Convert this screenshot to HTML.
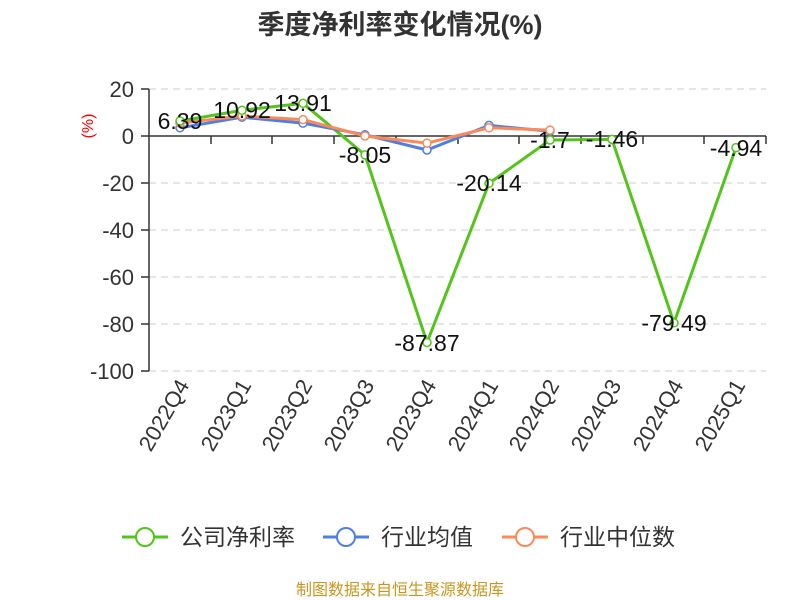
<!DOCTYPE html>
<html><head><meta charset="utf-8"><style>body{margin:0;background:#fff}svg{display:block}</style></head><body>
<svg width="800" height="600" xmlns="http://www.w3.org/2000/svg" font-family="Liberation Sans, Noto Sans CJK SC, sans-serif">
<text x="400" y="34" text-anchor="middle" font-size="27" font-weight="bold" fill="#333">季度净利率变化情况(%)</text>
<g stroke="#ccc" stroke-dasharray="7,5" stroke-width="1">
<line x1="149" x2="766" y1="89" y2="89"/><line x1="149" x2="766" y1="183" y2="183"/><line x1="149" x2="766" y1="230" y2="230"/><line x1="149" x2="766" y1="277" y2="277"/><line x1="149" x2="766" y1="324" y2="324"/><line x1="149" x2="766" y1="371" y2="371"/>
</g>
<g stroke="#333" stroke-width="1.5">
<line x1="149" x2="149" y1="89" y2="371"/><line x1="149" x2="766" y1="136" y2="136"/>
<line x1="141" x2="149" y1="89" y2="89"/><line x1="141" x2="149" y1="136" y2="136"/><line x1="141" x2="149" y1="183" y2="183"/><line x1="141" x2="149" y1="230" y2="230"/><line x1="141" x2="149" y1="277" y2="277"/><line x1="141" x2="149" y1="324" y2="324"/><line x1="141" x2="149" y1="371" y2="371"/>
<line x1="211" x2="211" y1="136" y2="144"/><line x1="272" x2="272" y1="136" y2="144"/><line x1="334" x2="334" y1="136" y2="144"/><line x1="396" x2="396" y1="136" y2="144"/><line x1="458" x2="458" y1="136" y2="144"/><line x1="519" x2="519" y1="136" y2="144"/><line x1="581" x2="581" y1="136" y2="144"/><line x1="643" x2="643" y1="136" y2="144"/><line x1="704" x2="704" y1="136" y2="144"/><line x1="766" x2="766" y1="136" y2="144"/>
</g>
<g font-size="22" fill="#333" text-anchor="end">
<text x="134" y="97">20</text><text x="134" y="144">0</text><text x="134" y="191">-20</text><text x="134" y="238">-40</text><text x="134" y="285">-60</text><text x="134" y="332">-80</text><text x="134" y="379">-100</text>
</g>
<text transform="translate(93,126) rotate(-90)" text-anchor="middle" font-size="16" fill="#f00">(%)</text>
<g font-size="22" fill="#333" text-anchor="end">
<text transform="translate(190,385) rotate(-60)">2022Q4</text>
<text transform="translate(252,385) rotate(-60)">2023Q1</text>
<text transform="translate(313,385) rotate(-60)">2023Q2</text>
<text transform="translate(375,385) rotate(-60)">2023Q3</text>
<text transform="translate(437,385) rotate(-60)">2023Q4</text>
<text transform="translate(499,385) rotate(-60)">2024Q1</text>
<text transform="translate(560,385) rotate(-60)">2024Q2</text>
<text transform="translate(622,385) rotate(-60)">2024Q3</text>
<text transform="translate(684,385) rotate(-60)">2024Q4</text>
<text transform="translate(746,385) rotate(-60)">2025Q1</text>
</g>
<polyline fill="none" stroke="#52c41a" stroke-width="3" points="180,121 242,110.3 303,103.3 365,154.9 427,342.5 489,183.3 550,140 612,139.4 674,322.8 736,147.6"/>
<polyline fill="none" stroke="#4e7fe6" stroke-width="3" points="180,127.8 242,117.2 303,123.1 365,134.8 427,150 489,125.4 550,131.3"/>
<polyline fill="none" stroke="#fb8a58" stroke-width="3" points="180,123.1 242,116 303,119.6 365,136 427,143.1 489,127.8 550,130.1"/>
<g fill="#fff" stroke="#4e7fe6" stroke-width="1.5"><circle cx="180" cy="127.8" r="4"/><circle cx="242" cy="117.2" r="4"/><circle cx="303" cy="123.1" r="4"/><circle cx="365" cy="134.8" r="4"/><circle cx="427" cy="150" r="4"/><circle cx="489" cy="125.4" r="4"/><circle cx="550" cy="131.3" r="4"/></g>
<g fill="#fff" stroke="#fb8a58" stroke-width="1.5"><circle cx="180" cy="123.1" r="4"/><circle cx="242" cy="116" r="4"/><circle cx="303" cy="119.6" r="4"/><circle cx="365" cy="136" r="4"/><circle cx="427" cy="143.1" r="4"/><circle cx="489" cy="127.8" r="4"/><circle cx="550" cy="130.1" r="4"/></g>
<g fill="#fff" stroke="#52c41a" stroke-width="1.5"><circle cx="180" cy="121" r="4"/><circle cx="242" cy="110.3" r="4"/><circle cx="303" cy="103.3" r="4"/><circle cx="365" cy="154.9" r="4"/><circle cx="427" cy="342.5" r="4"/><circle cx="489" cy="183.3" r="4"/><circle cx="550" cy="140" r="4"/><circle cx="612" cy="139.4" r="4"/><circle cx="674" cy="322.8" r="4"/><circle cx="736" cy="147.6" r="4"/></g>
<g font-size="23" fill="#111" text-anchor="middle">
<text x="180" y="129">6.39</text><text x="242" y="118">10.92</text><text x="303" y="111">13.91</text><text x="365" y="163">-8.05</text><text x="427" y="351">-87.87</text><text x="489" y="191">-20.14</text><text x="550" y="148">-1.7</text><text x="612" y="147">-1.46</text><text x="674" y="331">-79.49</text><text x="736" y="156">-4.94</text>
</g>
<g font-size="23" fill="#333">
<line x1="122" x2="168" y1="537" y2="537" stroke="#52c41a" stroke-width="3"/><circle cx="145" cy="537" r="9" fill="#fff" stroke="#52c41a" stroke-width="2"/><text x="180" y="545">公司净利率</text>
<line x1="323" x2="369" y1="537" y2="537" stroke="#4e7fe6" stroke-width="3"/><circle cx="346" cy="537" r="9" fill="#fff" stroke="#4e7fe6" stroke-width="2"/><text x="381" y="545">行业均值</text>
<line x1="502" x2="548" y1="537" y2="537" stroke="#fb8a58" stroke-width="3"/><circle cx="525" cy="537" r="9" fill="#fff" stroke="#fb8a58" stroke-width="2"/><text x="560" y="545">行业中位数</text>
</g>
<text x="400" y="595" text-anchor="middle" font-size="16" fill="#c8961e">制图数据来自恒生聚源数据库</text>
</svg>
</body></html>
